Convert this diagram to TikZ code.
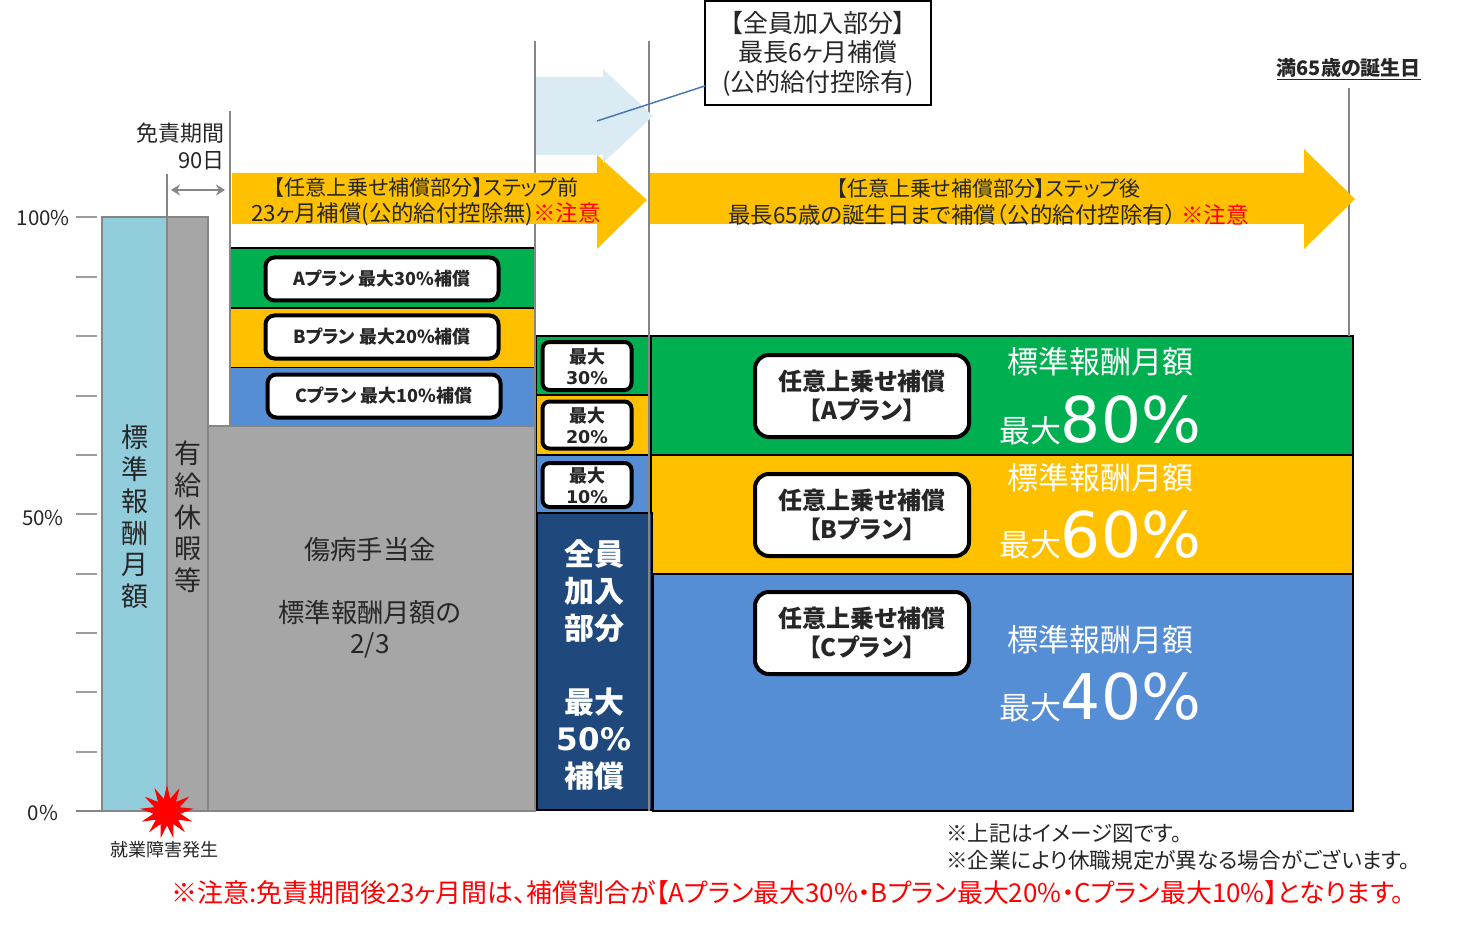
\documentclass[tikz,border=0pt]{standalone}
\usepackage{fontspec}
\setmainfont{Noto Sans CJK JP}[RawFeature={+palt}]
\newfontfamily\widefont{DejaVu Sans}
\usetikzlibrary{arrows.meta,shapes.geometric}
\definecolor{planA}{HTML}{00B050}
\definecolor{planB}{HTML}{FFC000}
\definecolor{planC}{HTML}{558ED5}
\definecolor{navy}{HTML}{1F497D}
\definecolor{paleblue}{HTML}{DBEBF3}
\definecolor{skybar}{HTML}{92CDDC}
\definecolor{greybar}{HTML}{A6A6A6}
\definecolor{greyline}{HTML}{868686}
\definecolor{inktext}{HTML}{262626}
\newcommand{\fs}[2]{\fontsize{#1}{#2}\selectfont}
\tikzset{
  band/.style={draw=black, line width=1.5pt, inner sep=0pt, outer sep=0pt, anchor=north west},
  greybox/.style={fill=greybar, draw=greyline, line width=1.5pt, inner sep=0pt, outer sep=0pt, anchor=north west},
  planbox/.style={fill=white, draw=black, line width=4pt, rounded corners=9pt, inner sep=0pt, outer sep=0pt, align=center, font=\bfseries, text=inktext},
  label/.style={inner sep=0pt, align=center, text=inktext},
  whitetext/.style={inner sep=0pt, align=center, text=white},
  guide/.style={draw=greyline, line width=1.5pt},
}
\begin{document}
\begin{tikzpicture}[x=1pt,y=-1pt]
\useasboundingbox (0,0) rectangle (1467,925);
% bars on the left
\node [greybox, fill=skybar, minimum width=65, minimum height=594] (salary) at (102,217) {};
\node [greybox, minimum width=41, minimum height=594] (leave) at (167,217) {};
\node [band, fill=planA, minimum width=305, minimum height=60] (stepA) at (230,248) {};
\node [band, fill=planB, minimum width=305, minimum height=60] (stepB) at (230,308) {};
\node [band, fill=planC, draw=none, minimum width=305, minimum height=58] (stepC) at (230,368) {};
\node [greybox, minimum width=327, minimum height=385] (sick) at (208,426) {};
% axis
\foreach \tick in {217,277,336,396,455,514,574,633,692,752}
  \draw [greyline!80, line width=1.5pt] (76,\tick) -- (97,\tick);
\draw [guide, line width=2pt] (76,811) -- (535,811);
\node [label, anchor=east, font=\fs{20.5}{24}] (pct100) at (70,218) {100\%};
\node [label, font=\fs{20.5}{24}] (pct50) at (43,518) {50\%};
\node [label, font=\fs{20.5}{24}] (pct0) at (43,813) {0\%};
% middle column
\node [band, fill=planA, minimum width=114, minimum height=59] (midA) at (536,336) {};
\node [band, fill=planB, minimum width=114, minimum height=60] (midB) at (536,395) {};
\node [band, fill=planC, minimum width=114, minimum height=58] (midC) at (536,455) {};
% right column
\node [band, fill=planB, minimum width=702, minimum height=119] (rightB) at (651,455) {};
\node [band, fill=planA, minimum width=702, minimum height=119] (rightA) at (651,336) {};
\node [band, fill=planC, minimum width=700, minimum height=237] (rightC) at (653,574) {};
\node [band, fill=navy, line width=2pt, minimum width=115, minimum height=297] (allmember) at (537,513) {};
% guide lines
\draw [guide] (167,174) -- (167,811);
\draw [guide] (230,111) -- (230,426);
\draw [guide] (535,41) -- (535,811);
\draw [guide] (649,41) -- (649,811);
\draw [guide] (1349,88) -- (1349,336);
% arrows
\fill [planB] (232,173) -- (597,173) -- (597,155) -- (647,200) -- (597,249) -- (597,224) -- (232,224) -- cycle;
\fill [planB] (650,173) -- (1304,173) -- (1304,149) -- (1355,199) -- (1304,249) -- (1304,224) -- (650,224) -- cycle;
\fill [paleblue] (536,77) -- (603,77) -- (603,69) -- (653,116) -- (603,163) -- (603,155) -- (536,155) -- cycle;
\coordinate (graceleft) at (171,190);
\coordinate (graceright) at (225,190);
\draw [{Stealth[length=9pt,width=11pt]}-{Stealth[length=9pt,width=11pt]}, greyline, line width=1.5pt] (graceleft) -- (graceright);
% callout
\node [fill=white, draw=black, line width=2pt, inner sep=0pt, outer sep=0pt, minimum width=226, minimum height=104, align=center, text=inktext, font=\fs{25}{29.5}] (callout) at (818,53.5) {【全員加入部分】\\最長6ヶ月補償\\(公的給付控除有)};
\coordinate (calloutend) at (597,121);
\draw [draw=planC!85!black, line width=1.5pt] (callout.196.7) -- (calloutend);
% texts
\node [label, anchor=east, align=right, font=\fs{22}{27}] (grace) at (225,146) {免責期間\\90日};
\node [label, font=\fs{21}{26.5}] (arrowbefore) at (426,202) {【任意上乗せ補償部分】ステップ前\\{\fs{22.4}{26.5}23ヶ月補償(公的給付控除無)\textcolor{red}{※注意}}};
\node [label, font=\fs{21}{26.5}] (arrowafter) at (988.5,202) {【任意上乗せ補償部分】ステップ後\\{\fs{22.5}{26.5}最長65歳の誕生日まで補償（公的給付控除有） \textcolor{red}{※注意}}};
\node [label, anchor=east, font=\bfseries\fs{20}{24}] (birthday) at (1421,69) {\underline{満65歳の誕生日}};
\node [label, font=\fs{27}{31.8}] (salarytext) at (135,517) {標\\準\\報\\酬\\月\\額};
\node [label, font=\fs{27}{31.7}] (leavetext) at (188,517) {有\\給\\休\\暇\\等};
\node [label, font=\fs{26.3}{31.5}] (sicktext) at (370,598) {傷病手当金\\[31pt]標準報酬月額の\\2/3};
\node [whitetext, font=\bfseries\fs{30}{37}] (allmembertext) at (594,665) {全員\\加入\\部分\\[37pt]最大\\{\widefont\fs{31}{37}50\%}\\補償};
% plan boxes
\node [planbox, font=\bfseries\fs{18}{23}, minimum width=233, minimum height=43] (boxA) at (382,279) {Aプラン 最大30\%補償};
\node [planbox, font=\bfseries\fs{18}{23}, minimum width=233, minimum height=43] (boxB) at (382,337) {Bプラン 最大20\%補償};
\node [planbox, font=\bfseries\fs{18}{23}, minimum width=233, minimum height=43] (boxC) at (384,396) {Cプラン 最大10\%補償};
\node [planbox, rounded corners=7pt, font=\bfseries\fs{18}{21}, minimum width=89, minimum height=48] (smallA) at (587,366) {最大\\{\widefont\fs{17.5}{21}30\%}};
\node [planbox, rounded corners=7pt, font=\bfseries\fs{18}{21}, minimum width=89, minimum height=47] (smallB) at (587,425) {最大\\{\widefont\fs{17.5}{21}20\%}};
\node [planbox, rounded corners=7pt, font=\bfseries\fs{18}{21}, minimum width=89, minimum height=44] (smallC) at (587,485) {最大\\{\widefont\fs{17.5}{21}10\%}};
\node [planbox, rounded corners=14pt, font=\bfseries\fs{24}{29}, minimum width=214, minimum height=82] (rightboxA) at (862,396) {任意上乗せ補償\\【Aプラン】};
\node [planbox, rounded corners=14pt, font=\bfseries\fs{24}{29}, minimum width=214, minimum height=82] (rightboxB) at (862,515) {任意上乗せ補償\\【Bプラン】};
\node [planbox, rounded corners=14pt, font=\bfseries\fs{24}{29}, minimum width=214, minimum height=82] (rightboxC) at (862,633) {任意上乗せ補償\\【Cプラン】};
% rates
\node [whitetext, font=\fs{31}{36}] (rateA) at (1100,362) {標準報酬月額};
\node [whitetext, font=\fs{31}{36}] (rateB) at (1100,478) {標準報酬月額};
\node [whitetext, font=\fs{31}{36}] (rateC) at (1100,640) {標準報酬月額};
\node [whitetext, font=\fs{31}{36}] (maxA) at (1030,431) {最大};
\node [whitetext, font=\fs{31}{36}] (maxB) at (1030,545) {最大};
\node [whitetext, font=\fs{31}{36}] (maxC) at (1030,708) {最大};
\node [whitetext, font=\widefont\fs{63}{70}] (pctA) at (1131,420) {80\%};
\node [whitetext, font=\widefont\fs{63}{70}] (pctB) at (1131,535) {60\%};
\node [whitetext, font=\widefont\fs{63}{70}] (pctC) at (1131,697) {40\%};
% bottom
\node [star, star points=13, star point ratio=2, fill=red, inner sep=0pt, minimum size=54pt] (onset) at (167,812) {};
\node [label, font=\fs{18}{21}] (onsettext) at (164,850) {就業障害発生};
\node [label, anchor=west, align=left, font=\fs{21.6}{27.5}] (notes) at (946,847) {※上記はイメージ図です。\\※企業により休職規定が異なる場合がございます。};
\node [label, text=red, font=\fs{25.9}{29}] (warning) at (788,893) {※注意:免責期間後23ヶ月間は、補償割合が【Aプラン最大30\%・Bプラン最大20\%・Cプラン最大10\%】となります。};
\end{tikzpicture}
\end{document}
